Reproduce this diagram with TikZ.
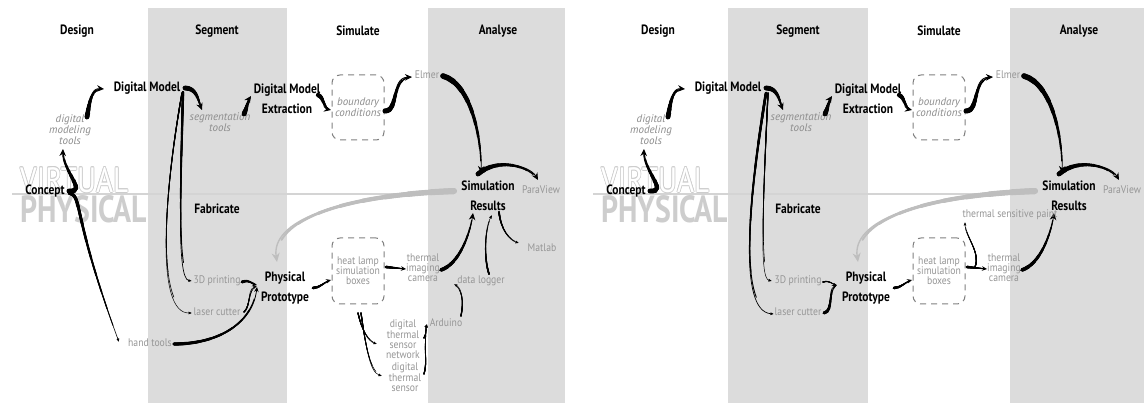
\documentclass[tikz,border=0pt]{standalone}
\usepackage{fontspec}
\usetikzlibrary{decorations.markings,arrows.meta,calc}
\newfontfamily\hfont{PT Sans}[FakeStretch=0.85]
\newfontfamily\lfont{PT Sans}[FakeStretch=0.88]
\newfontfamily\ifont{PT Sans}
\newfontfamily\vfont{PT Sans}[FakeStretch=0.78]
\definecolor{band}{RGB}{220,220,220}
\definecolor{lab}{RGB}{150,150,150}
\definecolor{ital}{RGB}{140,140,140}
\definecolor{bigarr}{RGB}{190,190,190}
\definecolor{vp}{RGB}{205,205,205}
\definecolor{vline}{RGB}{212,212,212}
\tikzset{
 hd/.style={inner sep=0pt, font=\hfont\bfseries\fontsize{13.5}{20}\selectfont, align=center},
 lb/.style={inner sep=0pt, text=lab, font=\lfont\fontsize{11}{10}\selectfont, align=center},
 it/.style={inner sep=0pt, text=ital, font=\ifont\itshape\fontsize{11}{9.7}\selectfont, align=center},
 dbox/.style={draw=gray, dash pattern=on 6pt off 5pt, rounded corners=8pt, line width=1pt},
 tipB/.style={-{Stealth[length=7pt,width=6.5pt]}},
 tipM/.style={-{Stealth[length=5pt,width=4.5pt]}},
 tipS/.style={-{Latex[length=3.5pt,width=3pt]}},
 tipG/.style={-{Stealth[length=9pt,width=8pt]}},
 vpline/.style={draw=vline, line width=1.6pt},
}
% tapered path: [colour]{tip style}{start width}{end width}{path}
\newcommand\tpath[5][black]{%
 \path[decorate,decoration={markings,mark=at position 0.0001 with {\xdef\plen{\pgfdecoratedpathlength}}}] #5;
 \foreach \k in {1,...,8}{\pgfmathsetmacro\dl{\plen*\k/9}\pgfmathsetmacro\ww{#3+(#4-#3)*(\k-1)/8}%
   \draw[#1, line width=\ww pt, dash pattern=on \dl pt off 5000pt, line cap=round] #5;}
 \draw[#1, line width=#4 pt, #2] #5;
}
\newcommand\commonpart{%
 \draw[vpline] (12,194) -- (454,194);
 \foreach \dx/\dy [count=\k] in {0.7/0,-0.7/0,0/0.7,0/-0.7,0.5/0.5,-0.5/0.5,0.5/-0.5,-0.5/-0.5}
   \node[inner sep=0pt, anchor=south west, text=vp] (vo\k) at (20+\dx,193+\dy) {\resizebox{108pt}{25pt}{\vfont VIRTUAL}};
 \node[inner sep=0pt, anchor=south west, text=white] (virtual) at (20,193) {\resizebox{108pt}{25pt}{\vfont VIRTUAL}};
 \node[inner sep=0pt, anchor=north west, text=vp] (physical) at (20,195) {\resizebox{127pt}{27pt}{\vfont\bfseries PHYSICAL}};
 \node[hd] (design) at (77,31) {Design};
 \node[hd] (segment) at (217,31) {Segment};
 \node[hd] (simulate) at (358,31) {Simulate};
 \node[hd] (analyse) at (498,31) {Analyse};
 \node[hd] (fabricate) at (217,209) {Fabricate};
 \node[hd] (concept) at (45,191) {Concept};
 \node[it] (dmt) at (70,130) {digital\\modeling\\tools};
 \node[hd] (dm) at (147,88) {Digital Model};
 \node[it] (seg) at (220,122) {segmentation\\tools};
 \node[hd] (dme) at (287,99) {Digital Model\\Extraction};
 \node[dbox, it, minimum width=52pt, minimum height=65pt] (bc) at (358,107.5) {boundary\\conditions};
 \node[lb] (elmer) at (427,75) {Elmer};
 \node[hd] (sr) at (488,196) {Simulation\\Results};
 \node[lb] (pv) at (541,190) {ParaView};
 \node[hd] (pp) at (285,288) {Physical\\Prototype};
 \node[dbox, lb, minimum width=52pt, minimum height=66pt] (hl) at (358,271) {heat lamp\\simulation\\boxes};
 \node[lb] (cam) at (423,268) {thermal\\imaging\\camera};
 \node[lb] (p3d) at (217,281) {3D printing};
 \node[lb] (lc) at (217,312) {laser cutter};
 \tpath[bigarr]{tipG}{6}{1.4}{($(sr)+(-34,-5)$) .. controls +(-120,5) and +(-6,-40) .. ($(pp)+(-8,-26)$)}
 \tpath{tipB}{4.8}{0.9}{($(concept)+(24,0)$) .. controls +(19,1) and +(-1,23) .. ($(dmt)+(-7,19)$)}
 \tpath{tipB}{4.8}{0.9}{($(dmt)+(17,-13)$) .. controls +(3,-17) and +(-13,-1) .. ($(dm)+(-43,1)$)}
 \tpath{tipB}{4.8}{0.9}{($(dm)+(38,0)$) .. controls +(12,0) and +(-4,-10) .. ($(seg)+(-18,-12)$)}
 \tpath{tipB}{4.8}{0.9}{($(seg)+(24,-8)$) .. controls +(3,-6) and +(-4,6) .. ($(dme)+(-36,-3)$)}
 \tpath{tipB}{4.2}{0.9}{($(dme)+(31,-4)$) .. controls +(7,3) and +(-9,-2) .. ($(bc)+(-27,2.5)$)}
 \tpath{tipB}{5}{0.9}{($(bc)+(27,3.5)$) .. controls +(14,0) and +(-22,1) .. ($(elmer)+(-15,2)$)}
 \tpath{tipB}{5.5}{0.8}{($(elmer)+(16,1)$) .. controls +(28,8) and +(1,-35) .. ($(sr)+(-7,-23)$)}
 \tpath{tipB}{4.8}{0.9}{($(sr)+(-10,-22)$) .. controls +(20,-17) and +(-8,-14) .. ($(pv)+(-3,-10)$)}
 \tpath{tipM}{2.6}{0.7}{($(pp)+(28,0)$) .. controls +(7,0) and +(-7,2) .. ($(hl)+(-27,9)$)}
 \tpath{tipM}{2.6}{0.7}{($(hl)+(28,-4)$) -- ($(cam)+(-17,1)$)}
 \tpath{tipB}{3.6}{0.8}{($(cam)+(18,2)$) .. controls +(18,-6) and +(-3,22) .. ($(sr)+(-15,17)$)}
}
\begin{document}
\begin{tikzpicture}[x=1pt,y=-1pt]
\useasboundingbox (0,0) rectangle (1144,403);
\fill[white] (0,0) rectangle (1144,403);
\fill[band] (148,8) rectangle (287,403);
\fill[band] (428,8) rectangle (565,403);
\fill[band] (728,8) rectangle (868,403);
\fill[band] (1010,8) rectangle (1144,403);
% ---------------- left panel
\begin{scope}[name prefix=L]
 \commonpart
 \node[lb] (ht) at (150,343) {hand tools};
 \node[lb] (dl) at (481,281) {data logger};
 \node[lb] (ml) at (542,248) {Matlab};
 \node[lb] (ard) at (446,323) {Arduino};
 \node[lb] (dtsn) at (403,339) {digital\\thermal\\sensor\\network};
 \node[lb] (dts) at (405,377) {digital\\thermal\\sensor};
 \tpath{tipS}{3.2}{0.6}{($(concept)+(24,2)$) .. controls +(14,3) and +(-48,-130) .. ($(ht)+(-31,-1)$)}
 \tpath{tipS}{2.4}{0.7}{($(dm)+(36,4)$) .. controls +(-2,88) and +(-16,-2) .. ($(p3d)+(-25,0)$)}
 \tpath{tipS}{1.2}{0.5}{($(dm)+(35,5)$) .. controls +(-19,107) and +(-36,0) .. ($(lc)+(-25,1)$)}
 \tpath{tipM}{2.8}{0.8}{($(p3d)+(25,1)$) .. controls +(8,-3) and +(-6,-1) .. ($(pp)+(-28,-3)$)}
 \tpath{tipS}{1.2}{0.5}{($(lc)+(27,0)$) .. controls +(7,-6) and +(-10,4) .. ($(pp)+(-28,-2)$)}
 \tpath{tipM}{3.2}{0.8}{($(ht)+(24,1)$) .. controls +(40,0) and +(-5,40) .. ($(pp)+(-28,-1)$)}
 \tpath{tipS}{1.6}{0.5}{($(dl)+(8,-7)$) .. controls +(-5,-15) and +(-8,15) .. ($(sr)+(4,19)$)}
 \tpath{tipS}{1.6}{0.5}{($(sr)+(11,16)$) .. controls +(2,18) and +(-10,-3) .. ($(ml)+(-23,-5)$)}
 \tpath{tipS}{1.2}{0.5}{($(ard)+(15,-7)$) .. controls +(3,-15) and +(8,5) .. ($(dl)+(-27,3)$)}
 \tpath{tipS}{1.2}{0.5}{($(hl)+(0,42)$) .. controls +(4,18) and +(-9,-3) .. ($(dtsn)+(-26,5)$)}
 \tpath{tipS}{1.2}{0.5}{($(hl)+(3,42)$) .. controls +(5,35) and +(-12,-4) .. ($(dts)+(-23,-1)$)}
 \tpath{tipS}{1.2}{0.5}{($(dtsn)+(21,-1)$) .. controls +(3,-5) and +(-2,5) .. ($(ard)+(-19,1)$)}
 \tpath{tipS}{1.2}{0.5}{($(dts)+(19,-3)$) .. controls +(4,-15) and +(-4,30) .. ($(ard)+(-19,1)$)}
\end{scope}
% ---------------- right panel
\begin{scope}[xshift=581pt, name prefix=R]
 \commonpart
 \node[lb] (tsp) at (429,215) {thermal sensitive paint};
 \tpath{tipS}{2.6}{0.7}{($(dm)+(38,5)$) .. controls +(-18,110) and +(-36,-3) .. ($(lc)+(-24,2)$)}
 \tpath{tipS}{1.2}{0.5}{($(dm)+(40,5)$) .. controls +(-5,110) and +(-13,-3) .. ($(p3d)+(-26,0)$)}
 \tpath{tipS}{1.2}{0.5}{($(p3d)+(25,1)$) .. controls +(7,-2) and +(-6,-1) .. ($(pp)+(-29,-3)$)}
 \tpath{tipM}{3.0}{0.8}{($(lc)+(26,1)$) .. controls +(10,-2) and +(-10,5) .. ($(pp)+(-29,-3)$)}
 \tpath{tipS}{1.2}{0.5}{($(hl)+(36,-4)$) .. controls +(6,-15) and +(0,15) .. ($(tsp)+(-45,7)$)}
\end{scope}
\end{tikzpicture}
\end{document}
